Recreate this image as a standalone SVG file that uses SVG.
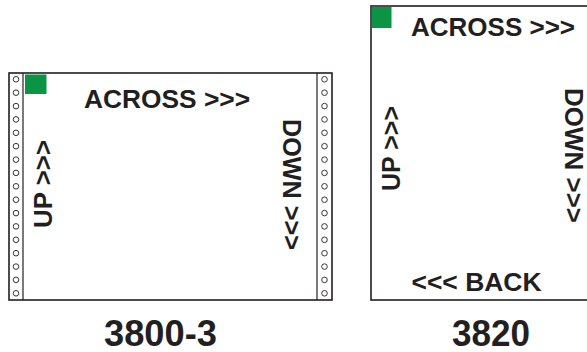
<svg xmlns="http://www.w3.org/2000/svg" width="587" height="352" viewBox="0 0 587 352">
<defs>
<style>
.frame{fill:#fff;stroke:#231f20;stroke-width:1.6}
.line{stroke:#231f20;stroke-width:1.2;fill:none}
.hole{fill:#fff;stroke:#231f20;stroke-width:0.9}
.green{fill:#0b9444}
.t{font-family:"Liberation Sans",Arial,sans-serif;font-weight:bold;font-size:25px;fill:#231f20}
.lbl{font-family:"Liberation Sans",Arial,sans-serif;font-weight:bold;font-size:36px;fill:#231f20}
</style>
<circle id="h" class="hole" cx="0" cy="0" r="2.8"/>
</defs>
<g id="paper-3800-3">
<rect class="frame" x="9" y="73" width="323" height="227"/>
<line class="line" x1="23" y1="73" x2="23" y2="300"/>
<line class="line" x1="317" y1="73" x2="317" y2="300"/>
<g id="holes-left">
<use href="#h" x="16" y="79.3"/><use href="#h" x="16" y="92.7"/><use href="#h" x="16" y="106.1"/><use href="#h" x="16" y="119.4"/><use href="#h" x="16" y="132.8"/><use href="#h" x="16" y="146.2"/><use href="#h" x="16" y="159.6"/><use href="#h" x="16" y="172.9"/><use href="#h" x="16" y="186.3"/><use href="#h" x="16" y="199.7"/><use href="#h" x="16" y="213.1"/><use href="#h" x="16" y="226.4"/><use href="#h" x="16" y="239.8"/><use href="#h" x="16" y="253.2"/><use href="#h" x="16" y="266.6"/><use href="#h" x="16" y="279.9"/><use href="#h" x="16" y="293.3"/>
</g>
<g id="holes-right">
<use href="#h" x="324.5" y="79.3"/><use href="#h" x="324.5" y="92.7"/><use href="#h" x="324.5" y="106.1"/><use href="#h" x="324.5" y="119.4"/><use href="#h" x="324.5" y="132.8"/><use href="#h" x="324.5" y="146.2"/><use href="#h" x="324.5" y="159.6"/><use href="#h" x="324.5" y="172.9"/><use href="#h" x="324.5" y="186.3"/><use href="#h" x="324.5" y="199.7"/><use href="#h" x="324.5" y="213.1"/><use href="#h" x="324.5" y="226.4"/><use href="#h" x="324.5" y="239.8"/><use href="#h" x="324.5" y="253.2"/><use href="#h" x="324.5" y="266.6"/><use href="#h" x="324.5" y="279.9"/><use href="#h" x="324.5" y="293.3"/>
</g>
<rect class="green" x="25" y="74.5" width="21.5" height="19.5"/>
<text class="t" x="84" y="108" textLength="166" lengthAdjust="spacingAndGlyphs">ACROSS &gt;&gt;&gt;</text>
<text class="t" transform="translate(52,228) rotate(-90)" textLength="88" lengthAdjust="spacingAndGlyphs">UP &gt;&gt;&gt;</text>
<text class="t" transform="translate(283,119) rotate(90)" textLength="131" lengthAdjust="spacingAndGlyphs">DOWN &gt;&gt;&gt;</text>
<text class="lbl" x="104" y="345.5" textLength="113" lengthAdjust="spacingAndGlyphs">3800-3</text>
</g>
<g id="paper-3820">
<rect class="frame" x="371" y="6" width="240" height="294"/>
<rect class="green" x="372" y="7" width="19.5" height="21"/>
<text class="t" x="411" y="36" textLength="164" lengthAdjust="spacingAndGlyphs">ACROSS &gt;&gt;&gt;</text>
<text class="t" transform="translate(400,191) rotate(-90)" textLength="85" lengthAdjust="spacingAndGlyphs">UP &gt;&gt;&gt;</text>
<text class="t" transform="translate(565,88) rotate(90)" textLength="135" lengthAdjust="spacingAndGlyphs">DOWN &gt;&gt;&gt;</text>
<text class="t" x="411.5" y="290.5" textLength="130" lengthAdjust="spacingAndGlyphs">&lt;&lt;&lt; BACK</text>
<text class="lbl" x="452" y="345.5" textLength="78" lengthAdjust="spacingAndGlyphs">3820</text>
</g>
<g id="connectors"/>
</svg>
